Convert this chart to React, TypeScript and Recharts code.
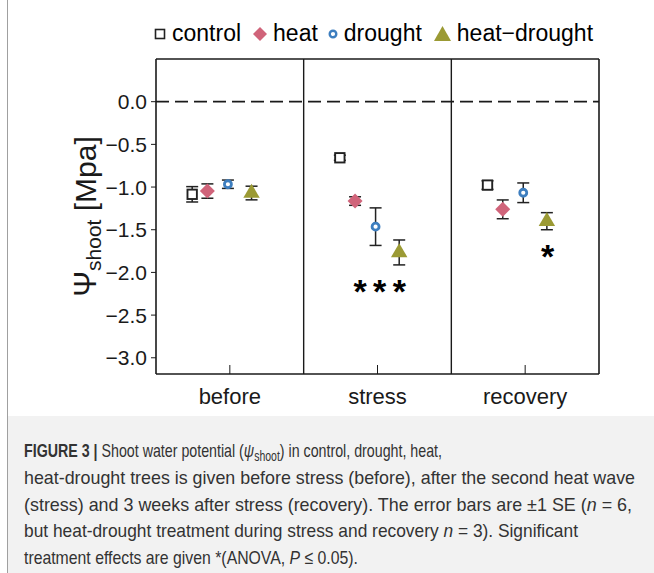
import React from 'react';
import { ComposedChart, Scatter, XAxis, YAxis, ErrorBar, ReferenceLine } from 'recharts';

const periods = ['before', 'stress', 'recovery'];
const controlMean = [-1.085, -0.657, -0.977];
const controlSE = [0.09, 0.03, 0.05];
const heatMean = [-1.047, -1.164, -1.261];
const heatSE = [0.084, 0.05, 0.11];
const droughtMean = [-0.967, -1.464, -1.067];
const droughtSE = [0.049, 0.22, 0.115];
const heatDroughtMean = [-1.07, -1.766, -1.4];
const heatDroughtSE = [0.08, 0.146, 0.1];
const sigLabels = ['', '* * *', '*'];
const sigY = [null, -2.135, -1.729];
const yTicks = [0, -0.5, -1, -1.5, -2, -2.5, -3];

const FONT = '"Liberation Sans", Arial, Helvetica, sans-serif';
const PINK = '#d0647a';
const BLUE = '#3d7ebf';
const OLIVE = '#9b9a34';
const INK = '#1a1a1a';

// horizontal dodge of each treatment inside a period (in x units)
const DODGE = [-0.255, -0.152, -0.013, 0.147];

const Empty = () => <g />;
const Square = (p: any) => (
  <rect x={p.cx - 4.7} y={p.cy - 4.7} width={9.4} height={9.4} fill="#fff" stroke="#222" strokeWidth={1.9} />
);
const Diamond = (p: any) => (
  <polygon
    points={`${p.cx},${p.cy - 7.5} ${p.cx + 7.5},${p.cy} ${p.cx},${p.cy + 7.5} ${p.cx - 7.5},${p.cy}`}
    fill={PINK}
  />
);
const Ring = (p: any) => <circle cx={p.cx} cy={p.cy} r={3.5} fill="#fff" stroke={BLUE} strokeWidth={2.8} />;
const Triangle = (p: any) => (
  <polygon
    points={`${p.cx},${p.cy - 9.3} ${p.cx + 8.2},${p.cy + 4.7} ${p.cx - 8.2},${p.cy + 4.7}`}
    fill={OLIVE}
  />
);
const Stars = (p: any) =>
  p.payload.label ? (
    <text
      x={p.cx}
      y={p.cy + 19}
      textAnchor="middle"
      fontFamily={FONT}
      fontWeight="bold"
      fontSize={34}
      letterSpacing={-1.5}
      fill="#000"
    >
      {p.payload.label}
    </text>
  ) : null;

const series = [
  { name: 'control', mean: controlMean, se: controlSE, shape: Square },
  { name: 'heat', mean: heatMean, se: heatSE, shape: Diamond },
  { name: 'drought', mean: droughtMean, se: droughtSE, shape: Ring },
  { name: 'heat-drought', mean: heatDroughtMean, se: heatDroughtSE, shape: Triangle },
];

const seriesData = series.map((s, k) =>
  periods.map((p, i) => ({ x: i + 0.5 + DODGE[k], y: s.mean[i], err: s.se[i] }))
);

const sigData = periods
  .map((p, i) => ({ x: i === 1 ? i + 0.51 : i + 0.5 + DODGE[3], y: sigY[i], label: sigLabels[i] }))
  .filter((d) => d.y !== null);

const fmtY = (v: number) => v.toFixed(1).replace('-', '\u2212');

const YLabel = (props: any) => {
  const vb = props.viewBox;
  const cy = vb.y + vb.height / 2;
  const cx = 85;
  return (
    <text
      x={cx}
      y={cy}
      transform={`rotate(-90, ${cx}, ${cy})`}
      textAnchor="middle"
      dominantBaseline="central"
      fontFamily={FONT}
      fill={INK}
    >
      <tspan fontSize={31}>Ψ</tspan>
      <tspan fontSize={21} dy={8}>shoot</tspan>
      <tspan fontSize={30} dy={-8}> [Mpa]</tspan>
    </text>
  );
};

const LegendMark = ({ kind }: { kind: string }) => {
  if (kind === 'control')
    return (
      <svg width={12} height={12}>
        <rect x={1.5} y={1.5} width={9} height={9} fill="none" stroke="#222" strokeWidth={1.6} />
      </svg>
    );
  if (kind === 'heat')
    return (
      <svg width={14} height={14}>
        <polygon points="7,0 14,7 7,14 0,7" fill={PINK} />
      </svg>
    );
  if (kind === 'drought')
    return (
      <svg width={10} height={10}>
        <circle cx={5} cy={5} r={3.3} fill="#fff" stroke={BLUE} strokeWidth={2.4} />
      </svg>
    );
  return (
    <svg width={17} height={15}>
      <polygon points="8.5,0 17,15 0,15" fill={OLIVE} />
    </svg>
  );
};

const legendGaps = [0, 12, 10, 12];

export default function App() {
  return (
    <div style={{ position: 'absolute', left: 0, top: 0, width: 654, height: 573, background: '#fff' }}>
      <div style={{ position: 'absolute', left: 7, top: 0, width: 1, height: 573, background: '#a0a0a0' }} />
      <div
        style={{
          position: 'absolute',
          left: 154,
          top: 20,
          display: 'flex',
          alignItems: 'center',
          fontFamily: FONT,
          fontSize: 23,
          color: '#000',
          whiteSpace: 'nowrap',
        }}
      >
        {series.map((s, k) => (
          <div key={s.name} style={{ display: 'flex', alignItems: 'center', marginLeft: legendGaps[k] }}>
            <LegendMark kind={s.name} />
            <span style={{ marginLeft: 6 }}>{s.name.replace('-', '\u2212')}</span>
          </div>
        ))}
      </div>

      <ComposedChart width={654} height={416} margin={{ top: 59, right: 55, bottom: 0, left: 0 }}>
        <XAxis
          type="number"
          dataKey="x"
          domain={[0, 3]}
          ticks={[0.5, 1.5, 2.5]}
          tickFormatter={(v: number) => periods[Math.floor(v)]}
          allowDataOverflow
          height={42}
          tickSize={-9}
          tickMargin={23}
          axisLine={{ stroke: INK, strokeWidth: 1.6 }}
          tickLine={{ stroke: INK, strokeWidth: 1 }}
          tick={{ fill: INK, fontSize: 22, fontFamily: FONT }}
        />
        <YAxis
          type="number"
          dataKey="y"
          domain={[-3.19, 0.5]}
          ticks={yTicks}
          tickFormatter={fmtY}
          allowDataOverflow
          width={156}
          tickSize={5}
          tickMargin={4}
          axisLine={{ stroke: INK, strokeWidth: 1.6 }}
          tickLine={{ stroke: INK, strokeWidth: 1 }}
          tick={{ fill: INK, fontSize: 21, fontFamily: FONT }}
          label={{ content: YLabel }}
        />
        <ReferenceLine y={0.5} stroke={INK} strokeWidth={1.6} />
        <ReferenceLine x={3} stroke={INK} strokeWidth={1.6} />
        <ReferenceLine x={1} stroke={INK} strokeWidth={1.4} />
        <ReferenceLine x={2} stroke={INK} strokeWidth={1.4} />
        <ReferenceLine y={0} stroke={INK} strokeWidth={1.8} strokeDasharray="13 6" />
        {series.map((s, k) => (
          <Scatter
            key={`${s.name}-err`}
            name={`${s.name}-err`}
            data={seriesData[k]}
            shape={Empty}
            isAnimationActive={false}
          >
            <ErrorBar dataKey="err" direction="y" width={6} stroke="#222" strokeWidth={1.5} zIndex={500} />
          </Scatter>
        ))}
        {series.map((s, k) => (
          <Scatter
            key={s.name}
            name={s.name}
            data={seriesData[k]}
            shape={s.shape}
            isAnimationActive={false}
          />
        ))}
        <Scatter name="sig" data={sigData} shape={Stars} isAnimationActive={false} />
      </ComposedChart>

      <svg style={{ position: 'absolute', left: 0, top: 416 }} width={654} height={157}>
        <rect x={8} y={0} width={646} height={157} fill="#f2f2f2" />
        <g fontFamily='"Liberation Sans Narrow", "Arial Narrow", "Liberation Sans", Arial, sans-serif' fontSize={19} fill="#333">
          <text x={24} y={41.3} textLength={418} lengthAdjust="spacingAndGlyphs">
            <tspan fontWeight="bold">FIGURE 3 | </tspan>Shoot water potential (<tspan fontStyle="italic">ψ</tspan>
            <tspan fontSize={14} dy={4}>shoot</tspan>
            <tspan dy={-4}>) in control, drought, heat,</tspan>
          </text>
          <text x={24} y={68} textLength={611} lengthAdjust="spacingAndGlyphs">
            heat-drought trees is given before stress (before), after the second heat wave
          </text>
          <text x={24} y={94.7} textLength={608} lengthAdjust="spacingAndGlyphs">
            (stress) and 3 weeks after stress (recovery). The error bars are ±1 SE (<tspan fontStyle="italic">n</tspan> = 6,
          </text>
          <text x={24} y={121.3} textLength={554} lengthAdjust="spacingAndGlyphs">
            but heat-drought treatment during stress and recovery <tspan fontStyle="italic">n</tspan> = 3). Significant
          </text>
          <text x={24} y={148} textLength={334} lengthAdjust="spacingAndGlyphs">
            treatment effects are given *(ANOVA, <tspan fontStyle="italic">P</tspan> ≤ 0.05).
          </text>
        </g>
      </svg>
    </div>
  );
}
